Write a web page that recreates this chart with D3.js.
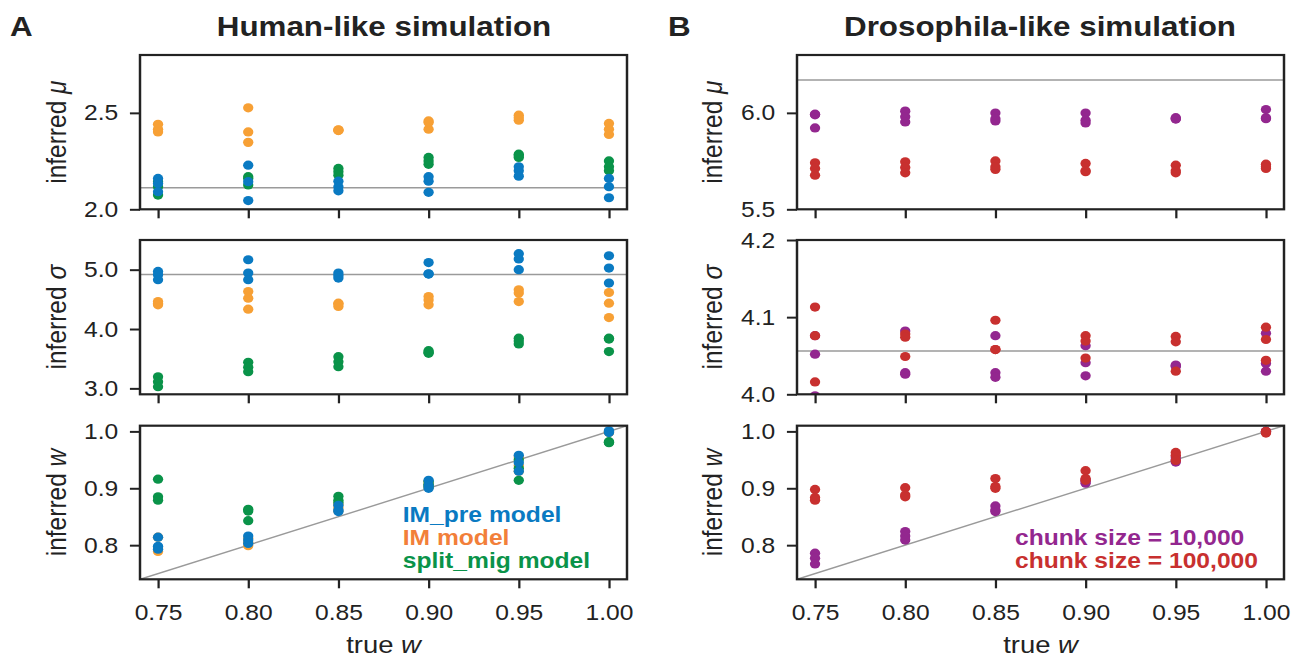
<!DOCTYPE html>
<html>
<head>
<meta charset="utf-8">
<script src="https://cdn.jsdelivr.net/npm/d3@7"></script>
<style>
  body { margin: 0; background: #fff; }
  text { font-family: "Liberation Sans", Arial, Helvetica, sans-serif; fill: #222; }
</style>
</head>
<body>
<svg id="fig" width="1300" height="658"></svg>
<script>
// ---- data: three replicate fits per true w ----
const trueW = [0.75, 0.80, 0.85, 0.90, 0.95, 1.00];
const xTicks = [0.75, 0.80, 0.85, 0.90, 0.95, 1.00];

// Human-like simulation
const humanMuIMpre  = [[2.160, 2.134, 2.091], [2.229, 2.143, 2.045], [2.146, 2.117, 2.096], [2.169, 2.146, 2.088], [2.220, 2.200, 2.172], [2.160, 2.117, 2.060]];
const humanMuIM     = [[2.441, 2.415, 2.401], [2.526, 2.401, 2.347], [2.410, 2.412, 2.408], [2.458, 2.415, 2.450], [2.488, 2.462, 2.475], [2.445, 2.415, 2.388]];
const humanMuSplit  = [[2.143, 2.117, 2.074], [2.169, 2.160, 2.126], [2.212, 2.195, 2.177], [2.269, 2.233, 2.250], [2.286, 2.269, 2.278], [2.251, 2.220, 2.200]];
const humanSigmaIMpre = [[4.970, 4.914, 4.830], [5.167, 4.943, 4.830], [4.943, 4.858, 4.900], [5.120, 4.926, 4.930], [5.270, 5.180, 5.000], [5.235, 5.027, 4.774]];
const humanSigmaIM    = [[4.463, 4.407, 4.430], [4.632, 4.520, 4.334], [4.436, 4.380, 4.420], [4.547, 4.407, 4.490], [4.660, 4.605, 4.463], [4.615, 4.436, 4.193]];
const humanSigmaSplit = [[3.196, 3.110, 3.027], [3.439, 3.355, 3.280], [3.534, 3.450, 3.365], [3.635, 3.590, 3.610], [3.845, 3.748, 3.800], [3.845, 3.620, 3.830]];
const humanWIMpre  = [[0.814, 0.798, 0.793], [0.816, 0.809, 0.803], [0.870, 0.862, 0.859], [0.914, 0.905, 0.900], [0.958, 0.945, 0.930], [1.001, 0.998, 1.000]];
const humanWIM     = [[0.814, 0.795, 0.789], [0.812, 0.805, 0.799], [0.872, 0.866, 0.860], [0.912, 0.906, 0.902], [0.955, 0.940, 0.930], [1.000, 0.999, 0.998]];
const humanWSplit  = [[0.916, 0.885, 0.879], [0.863, 0.860, 0.843], [0.886, 0.879, 0.875], [0.912, 0.907, 0.903], [0.950, 0.935, 0.914], [0.981, 0.982, 0.980]];
const humanMuTrue = 2.112;
const humanSigmaTrue = 4.92;

// Drosophila-like simulation
const droMu10k   = [[5.993, 5.922, 5.990], [6.009, 5.980, 5.953], [5.999, 5.958, 5.970], [5.999, 5.962, 5.948], [5.975, 5.970, 5.968], [6.017, 5.974, 5.970]];
const droMu100k  = [[5.741, 5.712, 5.677], [5.746, 5.717, 5.689], [5.751, 5.707, 5.720], [5.738, 5.695, 5.700], [5.729, 5.689, 5.700], [5.734, 5.712, 5.720]];
const droSigma10k  = [[4.052, 3.998, 4.076], [4.082, 4.028, 4.026], [4.076, 4.028, 4.022], [4.063, 4.041, 4.024], [4.038, 4.036, 4.037], [4.079, 4.040, 4.030]];
const droSigma100k = [[4.113, 4.076, 4.016], [4.078, 4.074, 4.049], [4.096, 4.058, 4.058], [4.076, 4.069, 4.047], [4.075, 4.068, 4.030], [4.087, 4.071, 4.044]];
const droW10k  = [[0.786, 0.777, 0.767], [0.824, 0.816, 0.809], [0.869, 0.862, 0.859], [0.909, 0.912, 0.915], [0.946, 0.950, 0.955], [1.000, 0.999, 1.000]];
const droW100k = [[0.898, 0.884, 0.879], [0.901, 0.885, 0.888], [0.917, 0.903, 0.900], [0.931, 0.917, 0.914], [0.963, 0.958, 0.949], [1.000, 0.997, 0.999]];
const droMuTrue = 6.17;
const droSigmaTrue = 4.056;

const humanLegend = ["IM_pre model", "IM model", "split_mig model"];
const droLegend = ["chunk size = 10,000", "chunk size = 100,000"];

// ---- styling ----
const C = {
  blue: "#0a7ac2", orange: "#f7a035", orangeText: "#f27f3a", green: "#0a9349",
  purple: "#93278f", red: "#c8302f", ref: "#9a9a9a", ink: "#222"
};

const SX = 1.12;                       // horizontal stretch of the whole figure
const L = v => v / SX;                 // page x -> drawing x
const svg = d3.select("#fig");
const root = svg.append("g").attr("transform", `scale(${SX},1)`);
const defs = svg.append("defs");

const cols = [{ x0: L(140), x1: L(627) }, { x0: L(797), x1: L(1284) }];
const rows = [{ y0: 55, y1: 209.3 }, { y0: 240, y1: 394.3 }, { y0: 425.7, y1: 579.3 }];
const xDomain = [0.74, 1.01];

const panels = [
  { col: 0, row: 0, domain: [2.0, 2.8], ticks: [2.0, 2.5], sym: "μ", ref: humanMuTrue,
    series: [[humanMuIM, C.orange], [humanMuSplit, C.green], [humanMuIMpre, C.blue]] },
  { col: 0, row: 1, domain: [2.9, 5.5], ticks: [3.0, 4.0, 5.0], sym: "σ", ref: humanSigmaTrue,
    series: [[humanSigmaIM, C.orange], [humanSigmaSplit, C.green], [humanSigmaIMpre, C.blue]] },
  { col: 0, row: 2, domain: [0.74, 1.01], ticks: [0.8, 0.9, 1.0], sym: "w", diag: true,
    series: [[humanWIM, C.orange], [humanWSplit, C.green], [humanWIMpre, C.blue]] },
  { col: 1, row: 0, domain: [5.5, 6.3], ticks: [5.5, 6.0], sym: "μ", ref: droMuTrue,
    series: [[droMu10k, C.purple], [droMu100k, C.red]] },
  { col: 1, row: 1, domain: [4.0, 4.2], ticks: [4.0, 4.1, 4.2], sym: "σ", ref: droSigmaTrue,
    series: [[droSigma10k, C.purple], [droSigma100k, C.red]] },
  { col: 1, row: 2, domain: [0.74, 1.01], ticks: [0.8, 0.9, 1.0], sym: "w", diag: true,
    series: [[droW10k, C.purple], [droW100k, C.red]] }
];

const ylabelX = [L(66), L(721.5)];

panels.forEach((p, i) => {
  const c = cols[p.col], r = rows[p.row];
  const x = d3.scaleLinear().domain(xDomain).range([c.x0, c.x1]);
  const y = d3.scaleLinear().domain(p.domain).range([r.y1, r.y0]);

  const clipId = "clip" + i;
  defs.append("clipPath").attr("id", clipId)
    .append("rect").attr("x", c.x0).attr("y", r.y0)
    .attr("width", c.x1 - c.x0).attr("height", r.y1 - r.y0);

  const plot = root.append("g").attr("clip-path", `url(#${clipId})`);

  // true-value reference
  if (p.diag) {
    plot.append("line")
      .attr("x1", x(xDomain[0])).attr("y1", y(xDomain[0]))
      .attr("x2", x(xDomain[1])).attr("y2", y(xDomain[1]))
      .attr("stroke", C.ref).attr("stroke-width", 1.4);
  } else {
    plot.append("line")
      .attr("x1", c.x0).attr("x2", c.x1)
      .attr("y1", y(p.ref)).attr("y2", y(p.ref))
      .attr("stroke", C.ref).attr("stroke-width", 1.5);
  }

  // replicate fits
  p.series.forEach(([vals, col]) => {
    const pts = [];
    vals.forEach((reps, k) => reps.forEach(v => pts.push([trueW[k], v])));
    plot.selectAll(null).data(pts).enter().append("circle")
      .attr("cx", d => x(d[0])).attr("cy", d => y(d[1]))
      .attr("r", 4.6).attr("fill", col);
  });

  // y axis
  const ya = root.append("g").attr("transform", `translate(${c.x0},0)`)
    .call(d3.axisLeft(y).tickValues(p.ticks).tickSize(9).tickPadding(10.5).tickFormat(d3.format(".1f")));
  ya.select(".domain").remove();
  ya.selectAll(".tick line").attr("stroke", C.ink).attr("stroke-width", 2);
  ya.selectAll(".tick text").attr("font-size", 22).attr("font-family", null).attr("fill", C.ink);

  // x axis
  const xa = root.append("g").attr("transform", `translate(0,${r.y1})`)
    .call(d3.axisBottom(x).tickValues(xTicks).tickSize(9).tickPadding(16)
      .tickFormat(p.row === 2 ? d3.format(".2f") : () => ""));
  xa.select(".domain").remove();
  xa.selectAll(".tick line").attr("stroke", C.ink).attr("stroke-width", 2);
  xa.selectAll(".tick text").attr("font-size", 22).attr("font-family", null).attr("fill", C.ink);

  // frame
  root.append("rect").attr("x", c.x0).attr("y", r.y0)
    .attr("width", c.x1 - c.x0).attr("height", r.y1 - r.y0)
    .attr("fill", "none").attr("stroke", C.ink).attr("stroke-width", 2.2);

  // y label
  const yl = root.append("text")
    .attr("transform", `translate(${ylabelX[p.col]},${(r.y0 + r.y1) / 2}) rotate(-90)`)
    .attr("text-anchor", "middle").attr("font-size", 24.5);
  yl.append("tspan").text("inferred ");
  yl.append("tspan").attr("font-style", "italic").text(p.sym);

  // x label
  if (p.row === 2) {
    const xl = root.append("text")
      .attr("x", (c.x0 + c.x1) / 2).attr("y", 653)
      .attr("text-anchor", "middle").attr("font-size", 24.5);
    xl.append("tspan").text("true ");
    xl.append("tspan").attr("font-style", "italic").text("w");
  }
});

// legends
const legH = [[humanLegend[0], C.blue], [humanLegend[1], C.orangeText], [humanLegend[2], C.green]];
legH.forEach(([t, col], i) => {
  root.append("text").attr("x", L(402.7)).attr("y", 522 + i * 23.2)
    .attr("font-size", 22).attr("font-weight", "bold").style("fill", col).text(t);
});
const legD = [[droLegend[0], C.purple], [droLegend[1], C.red]];
legD.forEach(([t, col], i) => {
  root.append("text").attr("x", L(1015)).attr("y", 545 + i * 23)
    .attr("font-size", 22).attr("font-weight", "bold").style("fill", col).text(t);
});

// panel titles
const titles = [
  { letter: "A", lx: L(10), title: "Human-like simulation", cx: L(384) },
  { letter: "B", lx: L(668), title: "Drosophila-like simulation", cx: L(1040) }
];
titles.forEach(t => {
  root.append("text").attr("x", t.lx).attr("y", 36).attr("font-size", 28)
    .attr("font-weight", "bold").text(t.letter);
  root.append("text").attr("x", t.cx).attr("y", 36).attr("font-size", 28)
    .attr("font-weight", "bold").attr("text-anchor", "middle").text(t.title);
});
</script>
</body>
</html>
